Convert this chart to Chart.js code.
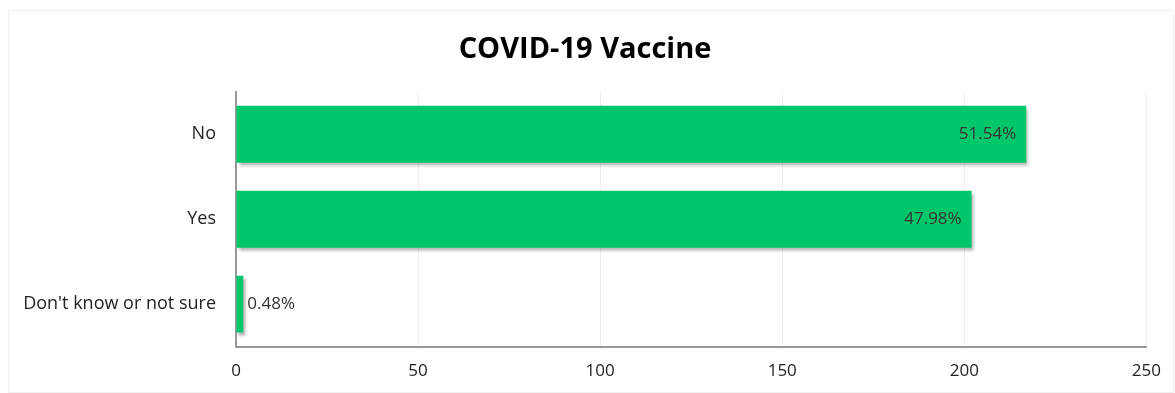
<!DOCTYPE html>
<html>
<head>
<meta charset="utf-8">
<script src="https://cdn.jsdelivr.net/npm/chart.js@4"></script>
<style>
  html, body { margin: 0; padding: 0; background: #fff; }
  #wrap { position: absolute; left: 8px; top: 10px; width: 1164px; height: 381px; border: 1px solid #f0f0f0; }
  #chart { position: absolute; left: -9px; top: -11px; }
</style>
</head>
<body>
<div id="wrap"><canvas id="chart" width="1175" height="393"></canvas></div>
<script>
const categories = ['No', 'Yes', "Don't know or not sure"];
const counts = [217, 202, 2];
const percentLabels = ['51.54%', '47.98%', '0.48%'];

// sombra leve nas barras
const barShadow = {
  id: 'barShadow',
  beforeDatasetsDraw(chart) {
    const ctx = chart.ctx;
    ctx.save();
    ctx.shadowColor = 'rgba(0,0,0,0.3)';
    ctx.shadowOffsetX = 2;
    ctx.shadowOffsetY = 3;
    ctx.shadowBlur = 3;
  },
  afterDatasetsDraw(chart) {
    chart.ctx.restore();
  }
};

// rótulos de porcentagem
const pctLabels = {
  id: 'pctLabels',
  afterDatasetsDraw(chart) {
    const ctx = chart.ctx;
    const meta = chart.getDatasetMeta(0);
    ctx.save();
    ctx.font = '17px "Open Sans", sans-serif';
    ctx.fillStyle = '#333';
    ctx.textBaseline = 'middle';
    meta.data.forEach(function(bar, i) {
      const w = bar.x - bar.base;
      if (w > 80) {
        ctx.textAlign = 'right';
        ctx.fillText(percentLabels[i], bar.x - 10, bar.y);
      } else {
        ctx.textAlign = 'left';
        ctx.fillText(percentLabels[i], bar.x + 4, bar.y);
      }
    });
    ctx.restore();
  }
};

new Chart(document.getElementById('chart'), {
  type: 'bar',
  data: {
    labels: categories,
    datasets: [{
      data: counts,
      backgroundColor: 'rgb(0, 200, 106)',
      borderWidth: 0,
      barPercentage: 0.67,
      categoryPercentage: 1
    }]
  },
  options: {
    indexAxis: 'y',
    responsive: false,
    animation: false,
    layout: { padding: { left: 10, right: 15, top: 14, bottom: -2 } },
    plugins: {
      legend: { display: false },
      tooltip: { enabled: false },
      title: {
        display: true,
        text: 'COVID-19 Vaccine',
        color: '#000',
        font: { family: '"Open Sans", sans-serif', size: 29, weight: 'bold' },
        padding: { top: 18, bottom: 25 }
      }
    },
    scales: {
      x: {
        min: 0,
        max: 250,
        ticks: { stepSize: 50, color: '#222', font: { family: '"Open Sans", sans-serif', size: 17 }, padding: 14 },
        grid: { color: '#efefef', drawTicks: false },
        border: { color: '#999', width: 2 }
      },
      y: {
        ticks: { color: '#222', font: { family: '"Open Sans", sans-serif', size: 18 }, padding: 20 },
        grid: { display: false, drawTicks: false },
        border: { color: '#999', width: 2 },
        afterFit(scale) { scale.width = 226; }
      }
    }
  },
  plugins: [barShadow, pctLabels]
});
</script>
</body>
</html>
